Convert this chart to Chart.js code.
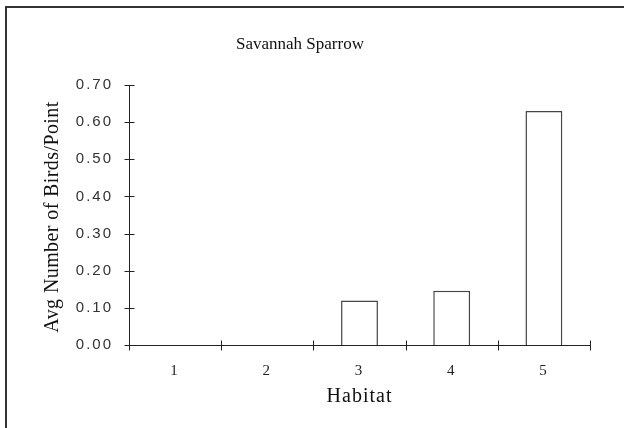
<!DOCTYPE html>
<html>
<head>
<meta charset="utf-8">
<script src="https://cdn.jsdelivr.net/npm/chart.js@4.4.0/dist/chart.umd.min.js"></script>
<style>
  html, body { margin: 0; padding: 0; background: #fff; overflow: hidden; }
  #wrap { position: relative; width: 624px; height: 428px; }
  #frame { position: absolute; left: 5px; top: 6px; width: 700px; height: 500px;
           border-left: 2px solid #333; border-top: 2px solid #333; }
  canvas { position: absolute; left: 0; top: 0; }
</style>
</head>
<body>
<div id="wrap">
  <div id="frame"></div>
  <canvas id="chart" width="624" height="428"></canvas>
</div>
<script>
// data
const chartTitle = 'Savannah Sparrow';
const xTitle = 'Habitat';
const yTitle = 'Avg Number of Birds/Point';
const habitats = ['1', '2', '3', '4', '5'];
const avgBirds = [0, 0, 0.12, 0.146, 0.63];
const yMin = 0, yMax = 0.7, yStep = 0.1;

// excel look: wide tick labels, ticks crossing the axes, titles drawn by hand
const excelAxes = {
  id: 'excelAxes',
  beforeDraw(chart) {
    chart.ctx.letterSpacing = '2px';
  },
  afterDraw(chart) {
    const { ctx, chartArea, scales: { x, y } } = chart;
    ctx.save();
    ctx.letterSpacing = '0px';
    ctx.strokeStyle = '#222';
    ctx.lineWidth = 1;
    ctx.beginPath();
    // y axis
    const ax = Math.round(chartArea.left) + 0.5;
    ctx.moveTo(ax, chartArea.top);
    ctx.lineTo(ax, chartArea.bottom);
    y.ticks.forEach(t => {
      const py = Math.round(y.getPixelForValue(t.value)) + 0.5;
      ctx.moveTo(ax - 5, py); ctx.lineTo(ax + 5, py);
    });
    // x axis
    const ay = Math.round(chartArea.bottom) + 0.5;
    ctx.moveTo(chartArea.left, ay);
    ctx.lineTo(chartArea.right, ay);
    const half = (x.getPixelForTick(1) - x.getPixelForTick(0)) / 2;
    for (let i = 0; i <= habitats.length; i++) {
      const px = Math.round(x.getPixelForTick(0) - half + i * half * 2) + 0.5;
      ctx.moveTo(px, ay - 5); ctx.lineTo(px, ay + 5);
    }
    ctx.stroke();

    ctx.fillStyle = '#111';
    ctx.textAlign = 'center';
    ctx.textBaseline = 'middle';
    ctx.font = '17px "Liberation Serif", serif';
    ctx.fillText(chartTitle, 300, 45);

    ctx.font = '20px "Liberation Serif", serif';
    ctx.letterSpacing = '1px';
    ctx.fillText(xTitle, (chartArea.left + chartArea.right) / 2, 397);

    ctx.letterSpacing = '0.4px';
    ctx.translate(53, (chartArea.top + chartArea.bottom) / 2 + 2);
    ctx.rotate(-Math.PI / 2);
    ctx.fillText(yTitle, 0, 0);
    ctx.restore();
  }
};

new Chart(document.getElementById('chart'), {
  type: 'bar',
  data: {
    labels: habitats,
    datasets: [{
      data: avgBirds,
      backgroundColor: '#fff',
      borderColor: '#444',
      borderWidth: 1.5,
      categoryPercentage: 1,
      barPercentage: 0.4
    }]
  },
  options: {
    responsive: false,
    animation: false,
    devicePixelRatio: 1,
    layout: { padding: { top: 85, right: 34, left: 0, bottom: 0 } },
    plugins: { legend: { display: false }, tooltip: { enabled: false }, title: { display: false } },
    scales: {
      x: {
        grid: { display: false, drawTicks: false },
        border: { display: false },
        ticks: { color: '#222', font: { family: 'Liberation Serif', size: 15 }, padding: 17 },
        afterFit(s) { s.height = 83; }
      },
      y: {
        min: yMin, max: yMax,
        grid: { display: false, drawTicks: false },
        border: { display: false },
        ticks: { stepSize: yStep, color: '#333', padding: 16,
                 font: { family: 'Liberation Sans', size: 15 },
                 callback: v => Number(v).toFixed(2) },
        afterFit(s) { s.width = 129; }
      }
    }
  },
  plugins: [excelAxes]
});
</script>
</body>
</html>
